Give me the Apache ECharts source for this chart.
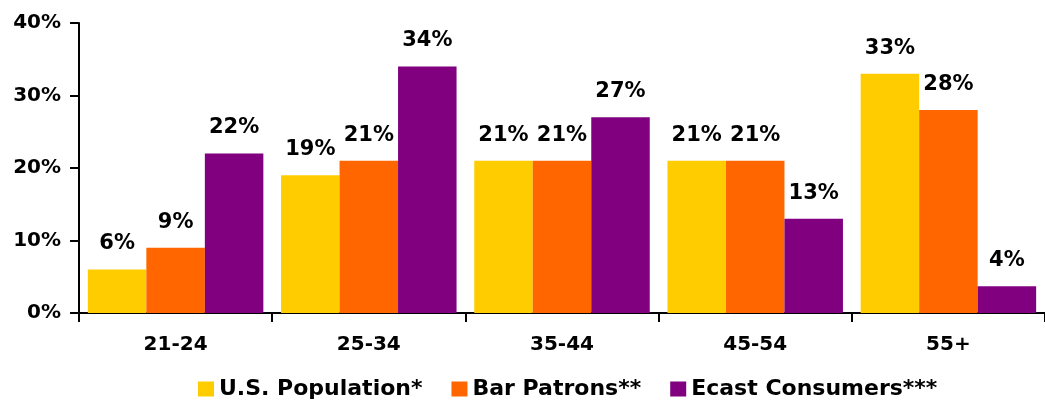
<!DOCTYPE html>
<html>
<head>
<meta charset="utf-8">
<style>html,body{margin:0;padding:0;background:#fff;}#c{width:1045px;height:402px;}</style>
<script src="https://cdn.jsdelivr.net/npm/echarts@6/dist/echarts.min.js"></script>
</head>
<body>
<div id="c"></div>
<script>
const categories = ['21-24', '25-34', '35-44', '45-54', '55+'];
const usPopulation = [6, 19, 21, 21, 33];
const barPatrons = [9, 21, 21, 21, 28];
const ecastConsumers = [22, 34, 27, 13, 3.7];
const seriesNames = ['U.S. Population*', 'Bar Patrons**', 'Ecast Consumers***'];
const yTicks = [0, 10, 20, 30, 40];

const FONT = '"DejaVu Sans", sans-serif';
const colors = ['#FFCC00', '#FF6600', '#800080'];
const chart = echarts.init(document.getElementById('c'));
const mk = (name, data, color) => ({
  name, type: 'bar', data, barWidth: 58.5, barGap: '0%',
  itemStyle: { color },
  label: {
    show: true, position: 'top', distance: 15,
    formatter: p => Math.round(p.value) + '%',
    fontFamily: FONT, fontWeight: 'bold', fontSize: 21, color: '#000'
  }
});
chart.setOption({
  animation: false,
  color: colors,
  grid: { left: 79, top: 23, width: 973, height: 290, containLabel: false },
  legend: {
    left: 193, top: 373, itemWidth: 16, itemHeight: 15, itemGap: 29,
    icon: 'rect',
    textStyle: { fontFamily: FONT, fontWeight: 'bold', fontSize: 22, color: '#000' },
    data: seriesNames
  },
  xAxis: {
    type: 'category', data: categories,
    axisLine: { lineStyle: { color: '#000', width: 2 } },
    axisTick: { show: true, length: 9, lineStyle: { color: '#000', width: 2 } },
    axisLabel: { margin: 22, fontFamily: FONT, fontWeight: 'bold', fontSize: 20, color: '#000' }
  },
  yAxis: {
    type: 'value', min: yTicks[0], max: yTicks[yTicks.length - 1], interval: 10,
    axisLine: { show: true, lineStyle: { color: '#000', width: 2 } },
    axisTick: { show: true, length: 9, lineStyle: { color: '#000', width: 2 } },
    splitLine: { show: false },
    axisLabel: { margin: 18, formatter: v => v + '%', fontFamily: FONT, fontWeight: 'bold', fontSize: 20, color: '#000' }
  },
  series: [
    mk(seriesNames[0], usPopulation, colors[0]),
    mk(seriesNames[1], barPatrons, colors[1]),
    mk(seriesNames[2], ecastConsumers, colors[2])
  ]
});
</script>
</body>
</html>
